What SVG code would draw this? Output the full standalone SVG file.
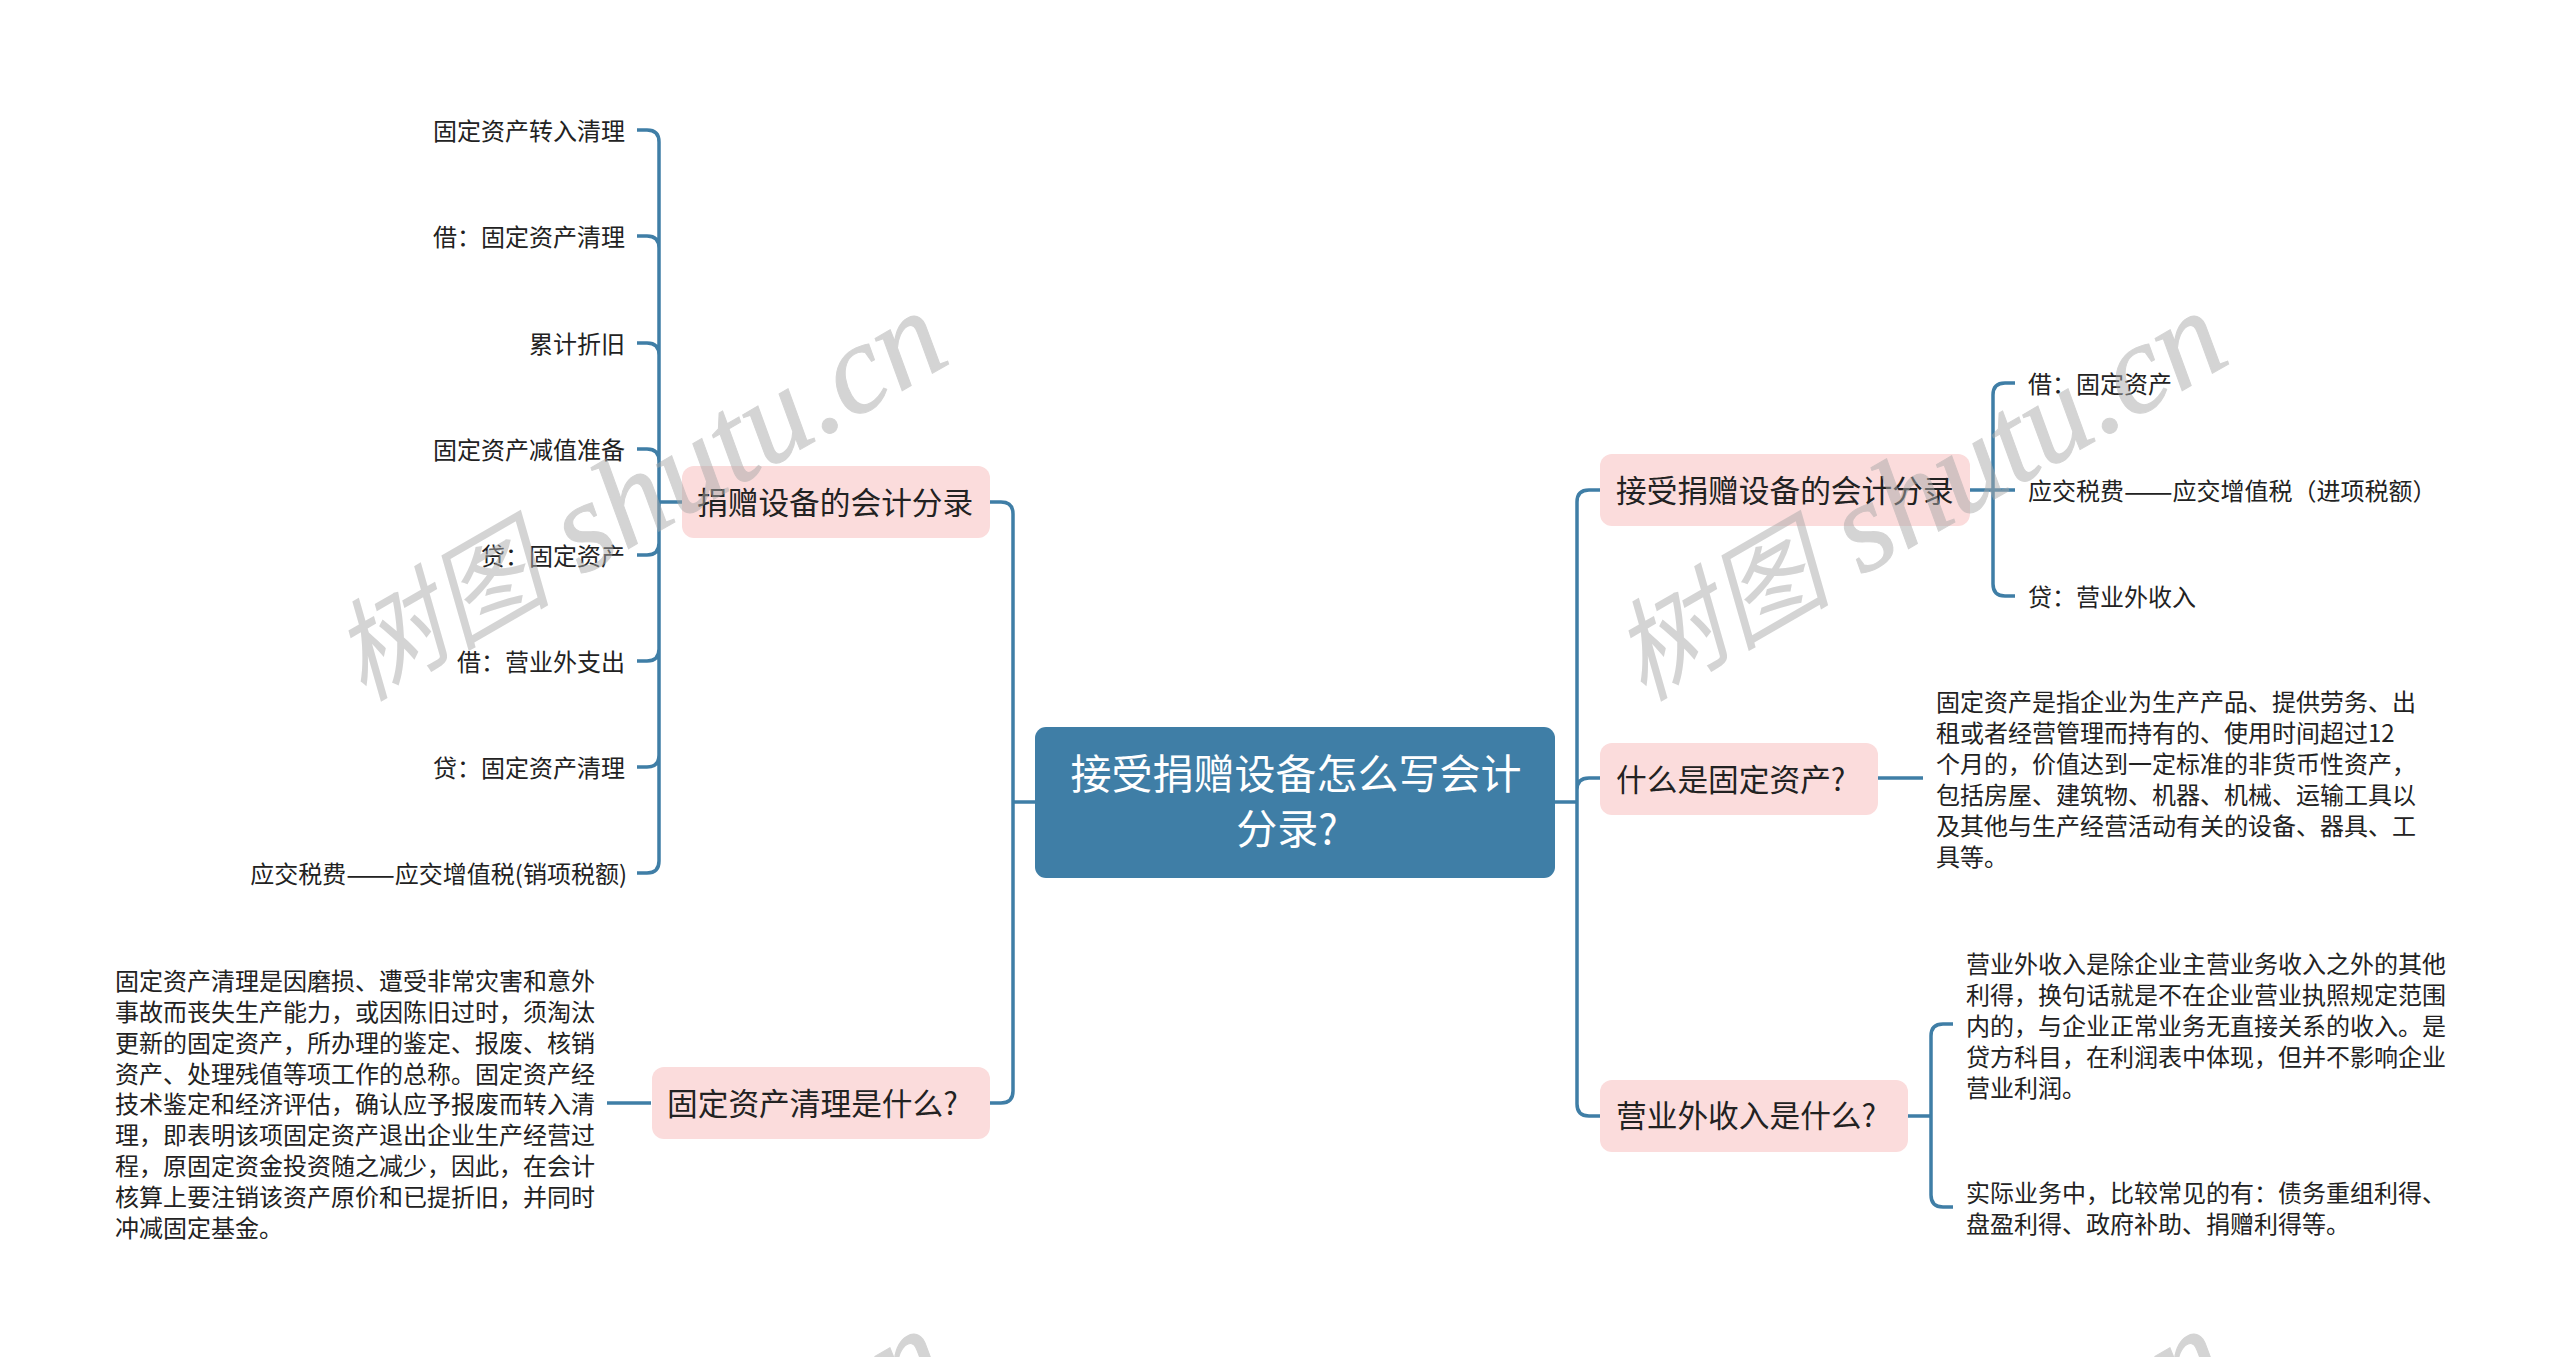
<svg xmlns="http://www.w3.org/2000/svg" width="2560" height="1357" viewBox="0 0 2560 1357">
<style>
text{font-family:"Noto Sans CJK SC","Noto Sans",sans-serif;fill:#222}
.leaf{font-size:24px;dominant-baseline:central}
.end{text-anchor:end}
.dash{font-size:29px}
.br{font-size:30.7px;dominant-baseline:central}
.root{font-size:41px;fill:#fff;text-anchor:middle;dominant-baseline:central}
.box{fill:#fbdcdc}
.wire{fill:none;stroke:#3f7ea6;stroke-width:3.5}
.wm{font-family:"Liberation Serif","Noto Sans CJK SC",serif;font-style:italic;font-size:128px;fill:#aaa;stroke:#aaa;stroke-width:1;opacity:.5}
.wmc{font-size:110px;stroke-width:0}
</style>
<rect width="2560" height="1357" fill="#fff"/>
<g id="connectors">
<path class="wire" d="M1035 802H1013M1555 802H1577"/>
<path class="wire" d="M990 502H1001Q1013 502 1013 514V1091Q1013 1103 1001 1103H990"/>
<path class="wire" d="M1600 490H1589Q1577 490 1577 502V1104Q1577 1116 1589 1116H1600M1577 790Q1577 778 1589 778H1600"/>
<path class="wire" d="M637 130H647Q659 130 659 142V861Q659 873 647 873H637M637 236H647Q659 236 659 248M637 343H647Q659 343 659 355M637 449H647Q659 449 659 461M637 555H647Q659 555 659 543M637 661H647Q659 661 659 649M637 767H647Q659 767 659 755M659 502H682"/>
<path class="wire" d="M607 1103H651"/>
<path class="wire" d="M1970 490H2015M2015 383H2005Q1993 383 1993 395V584Q1993 596 2005 596H2015"/>
<path class="wire" d="M1878 778H1923"/>
<path class="wire" d="M1908 1116H1931M1953 1024H1943Q1931 1024 1931 1036V1195Q1931 1207 1943 1207H1953"/>
</g>
<g id="root"><rect x="1035" y="727" width="520" height="151" rx="11" fill="#3f7ea6"/><text class="root" x="1296" y="771">接受捐赠设备怎么写会计</text><text class="root" x="1287" y="826">分录?</text></g>
<g id="n-left1"><rect class="box" x="682" y="466" width="308" height="72" rx="12"/><text class="br" x="697" y="500">捐赠设备的会计分录</text></g>
<g id="n-left2"><rect class="box" x="652" y="1067" width="338" height="72" rx="12"/><text class="br" x="667" y="1101">固定资产清理是什么?</text></g>
<g id="n-right1"><rect class="box" x="1600" y="454" width="370" height="72" rx="12"/><text class="br" x="1616" y="488">接受捐赠设备的会计分录</text></g>
<g id="n-right2"><rect class="box" x="1600" y="743" width="278" height="72" rx="12"/><text class="br" x="1616" y="777">什么是固定资产?</text></g>
<g id="n-right3"><rect class="box" x="1600" y="1080" width="308" height="72" rx="12"/><text class="br" x="1616" y="1113">营业外收入是什么?</text></g>
<g id="l-left1">
<text class="leaf end" x="625" y="129">固定资产转入清理</text>
<text class="leaf end" x="625" y="235">借&#xFF1A;固定资产清理</text>
<text class="leaf end" x="625" y="342">累计折旧</text>
<text class="leaf end" x="625" y="448">固定资产减值准备</text>
<text class="leaf end" x="625" y="554">贷&#xFF1A;固定资产</text>
<text class="leaf end" x="625" y="660">借&#xFF1A;营业外支出</text>
<text class="leaf end" x="625" y="766">贷&#xFF1A;固定资产清理</text>
<text class="leaf end" x="627" y="872">应交税费<tspan class="dash">——</tspan>应交增值税(销项税额)</text>
</g>
<g id="l-left2">
<text class="leaf" x="115" y="979">固定资产清理是因磨损、遭受非常灾害和意外</text>
<text class="leaf" x="115" y="1010">事故而丧失生产能力&#xFF0C;或因陈旧过时&#xFF0C;须淘汰</text>
<text class="leaf" x="115" y="1041">更新的固定资产&#xFF0C;所办理的鉴定、报废、核销</text>
<text class="leaf" x="115" y="1072">资产、处理残值等项工作的总称。固定资产经</text>
<text class="leaf" x="115" y="1102">技术鉴定和经济评估&#xFF0C;确认应予报废而转入清</text>
<text class="leaf" x="115" y="1133">理&#xFF0C;即表明该项固定资产退出企业生产经营过</text>
<text class="leaf" x="115" y="1164">程&#xFF0C;原固定资金投资随之减少&#xFF0C;因此&#xFF0C;在会计</text>
<text class="leaf" x="115" y="1195">核算上要注销该资产原价和已提折旧&#xFF0C;并同时</text>
<text class="leaf" x="115" y="1226">冲减固定基金。</text>
</g>
<g id="l-right1">
<text class="leaf" x="2028" y="382">借&#xFF1A;固定资产</text>
<text class="leaf" x="2028" y="489">应交税费<tspan class="dash">——</tspan>应交增值税&#xFF08;进项税额&#xFF09;</text>
<text class="leaf" x="2028" y="595">贷&#xFF1A;营业外收入</text>
</g>
<g id="l-right2">
<text class="leaf" x="1936" y="700">固定资产是指企业为生产产品、提供劳务、出</text>
<text class="leaf" x="1936" y="731">租或者经营管理而持有的、使用时间超过12</text>
<text class="leaf" x="1936" y="762">个月的&#xFF0C;价值达到一定标准的非货币性资产&#xFF0C;</text>
<text class="leaf" x="1936" y="793">包括房屋、建筑物、机器、机械、运输工具以</text>
<text class="leaf" x="1936" y="824">及其他与生产经营活动有关的设备、器具、工</text>
<text class="leaf" x="1936" y="855">具等。</text>
</g>
<g id="l-right3">
<text class="leaf" x="1966" y="962">营业外收入是除企业主营业务收入之外的其他</text>
<text class="leaf" x="1966" y="993">利得&#xFF0C;换句话就是不在企业营业执照规定范围</text>
<text class="leaf" x="1966" y="1024">内的&#xFF0C;与企业正常业务无直接关系的收入。是</text>
<text class="leaf" x="1966" y="1055">贷方科目&#xFF0C;在利润表中体现&#xFF0C;但并不影响企业</text>
<text class="leaf" x="1966" y="1086">营业利润。</text>
<text class="leaf" x="1966" y="1191">实际业务中&#xFF0C;比较常见的有&#xFF1A;债务重组利得、</text>
<text class="leaf" x="1966" y="1222">盘盈利得、政府补助、捐赠利得等。</text>
</g>
<g id="watermarks">
<text class="wm" transform="translate(363 702) rotate(-30)"><tspan class="wmc">树图</tspan> shutu.cn</text>
<text class="wm" transform="translate(1643 702) rotate(-30)"><tspan class="wmc">树图</tspan> shutu.cn</text>
<text class="wm" transform="translate(898 1411) rotate(-30)">n</text>
<text class="wm" transform="translate(2178 1411) rotate(-30)">n</text>
</g>
</svg>
